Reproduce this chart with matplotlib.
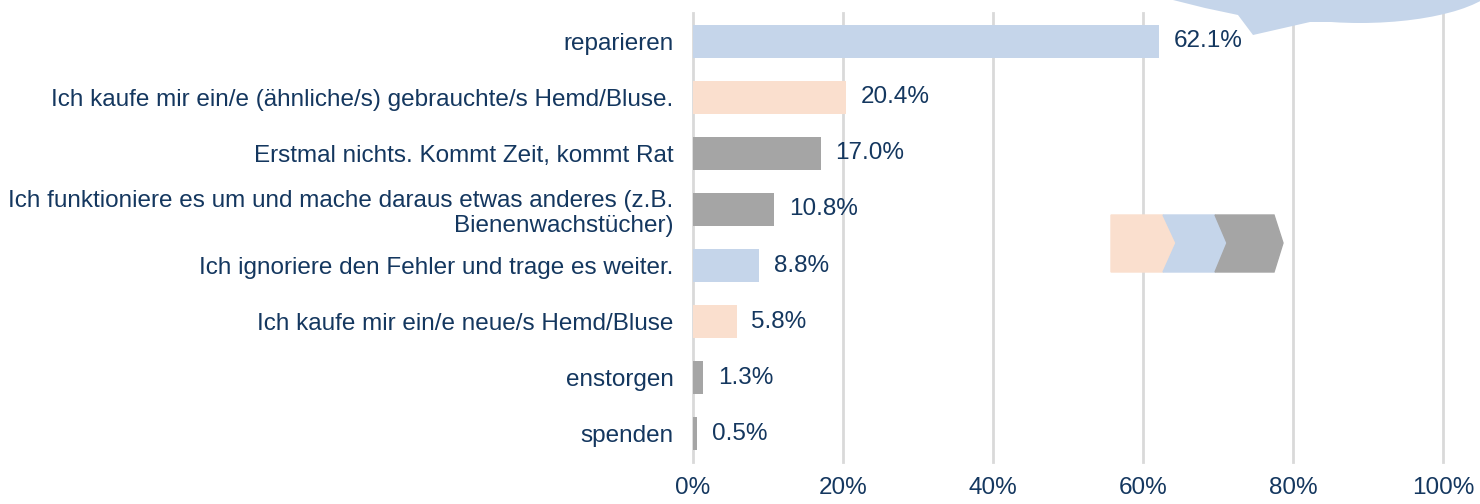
import matplotlib.pyplot as plt
from matplotlib.patches import Polygon, Ellipse

plt.rcParams['font.family'] = ['Liberation Sans', 'DejaVu Sans']

# Daten
categories = ["reparieren",
              "Ich kaufe mir ein/e (ähnliche/s) gebrauchte/s Hemd/Bluse.",
              "Erstmal nichts. Kommt Zeit, kommt Rat",
              "Ich funktioniere es um und mache daraus etwas anderes (z.B.\nBienenwachstücher)",
              "Ich ignoriere den Fehler und trage es weiter.",
              "Ich kaufe mir ein/e neue/s Hemd/Bluse",
              "enstorgen",
              "spenden"]
values = [62.1, 20.4, 17.0, 10.8, 8.8, 5.8, 1.3, 0.5]
bar_colors = ["#C5D5EA", "#FADFCE", "#A5A5A5", "#A5A5A5", "#C5D5EA", "#FADFCE", "#A5A5A5", "#A5A5A5"]
xticks = [0, 20, 40, 60, 80, 100]

text_color = "#14375F"
fs = 17.5
W, H = 1480, 504

fig = plt.figure(figsize=(W / 100, H / 100), dpi=100)
ax = fig.add_axes([693 / W, 1 - 462 / H, 750 / W, 449 / H])

y = list(range(len(categories)))
ax.barh(y, values, height=0.59, color=bar_colors, zorder=2)
for yi, v in zip(y, values):
    ax.text(v + 2.0, yi, f"{v:.1f}%", va="center", ha="left", fontsize=fs, color=text_color, zorder=3)

ax.set_ylim(len(categories) - 0.5, -0.5)
ax.set_xlim(0, 100)
ax.set_xticks(xticks)
ax.set_xticklabels([f"{t}%" for t in xticks])
ax.set_yticks(y)
ax.set_yticklabels(categories)
ax.tick_params(axis="both", length=0, labelsize=fs, labelcolor=text_color)
ax.tick_params(axis="x", pad=11)
ax.tick_params(axis="y", pad=14)
ax.grid(axis="x", color="#D9D9D9", linewidth=2, zorder=0)
for gl in ax.get_xgridlines():
    gl.set_clip_on(False)
for s in ax.spines.values():
    s.set_visible(False)


# Pixel-Koordinaten -> Figur-Koordinaten
def px(pts):
    return [(x / W, 1 - yy / H) for x, yy in pts]


# Sprechblase oben rechts
bubble_col = "#C5D5EA"
fig.patches.append(Ellipse((1360 / W, 1 - (-22) / H), 280 / W, 90 / H,
                           transform=fig.transFigure, color=bubble_col, lw=0, zorder=5))
tail = [(1160, -2), (1173, 0), (1205, 8), (1238, 15), (1253, 35), (1310, 22),
        (1345, 22), (1345, -2)]
fig.patches.append(Polygon(px(tail), closed=True, transform=fig.transFigure,
                           color=bubble_col, lw=0, zorder=5))

# Pfeile (Chevrons)
top, mid, bot = 215, 243, 272
chev_peach = [(1111, top), (1163, top), (1176, mid), (1163, bot), (1111, bot)]
chev_blue = [(1163, top), (1215, top), (1227, mid), (1215, bot), (1163, bot), (1176, mid)]
chev_gray = [(1215, top), (1274, top), (1283, mid), (1274, bot), (1215, bot), (1227, mid)]
for pts, c in [(chev_peach, "#FADFCE"), (chev_blue, "#C5D5EA"), (chev_gray, "#A5A5A5")]:
    fig.patches.append(Polygon(px(pts), closed=True, transform=fig.transFigure,
                               color=c, zorder=5))

fig.savefig("out.png", dpi=100)
